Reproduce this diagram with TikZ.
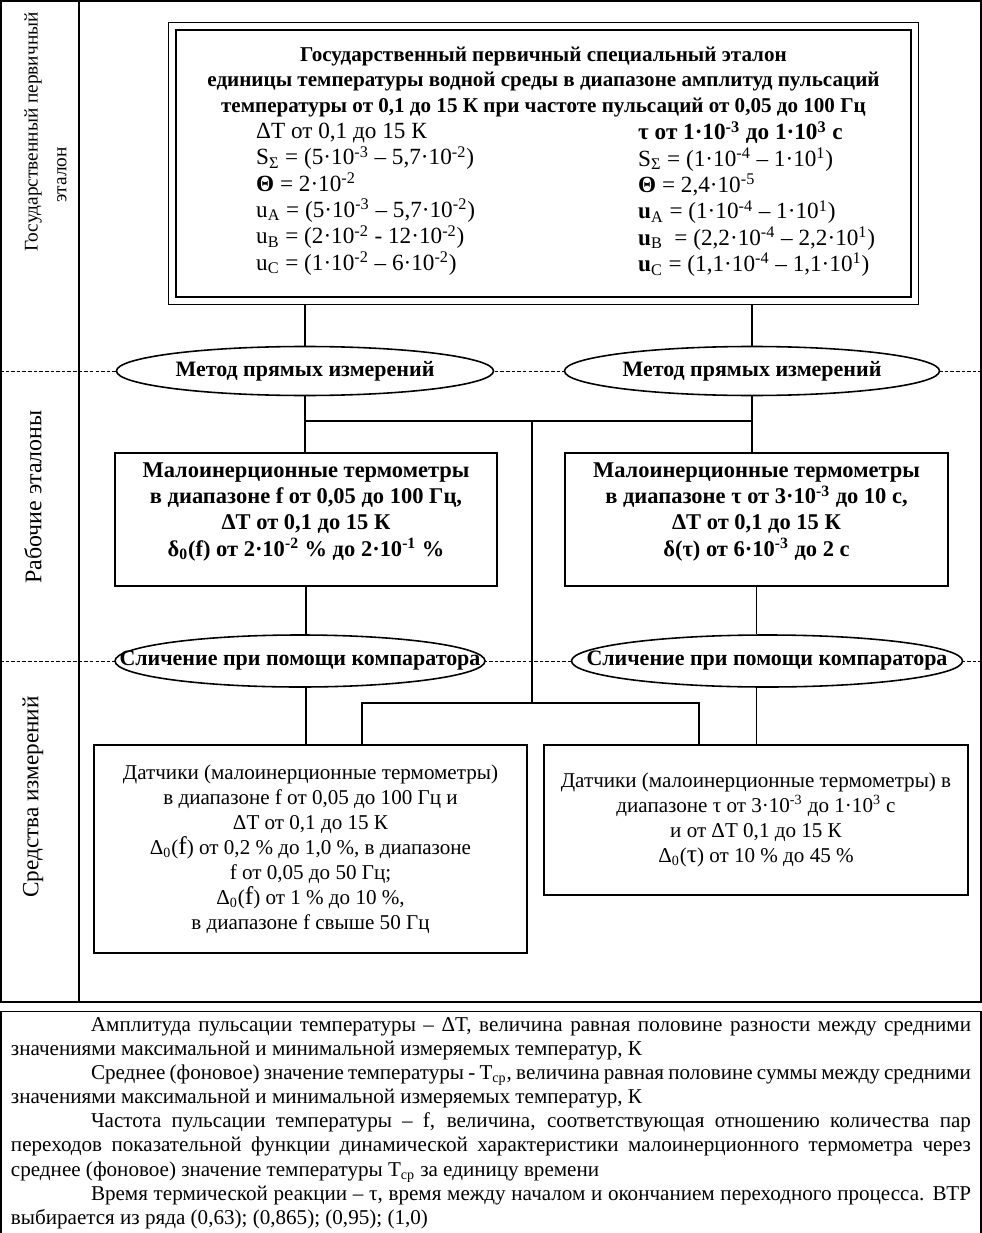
\documentclass[tikz,border=0pt]{standalone}
\usepackage{fontspec}
\setmainfont{Liberation Serif}
\usepackage{tikz}
\usetikzlibrary{positioning, shapes.geometric, fit, calc}

\begin{document}
\begin{tikzpicture}[
  font=\fontsize{12}{14.5}\selectfont,
  box/.style={draw, line width=1.1pt, align=center, inner sep=2pt,
              font=\bfseries\fontsize{12.8}{14.9}\selectfont},
  sensor/.style={box, font=\fontsize{12}{14.2}\selectfont},
  method/.style={draw, ellipse, line width=0.9pt, fill=white, inner sep=0pt,
                 minimum height=0.98cm, font=\bfseries\fontsize{12.5}{15}\selectfont},
  params/.style={align=left, anchor=west, font=\fontsize{13.2}{15}\selectfont},
  level/.style={rotate=90, font=\fontsize{13.6}{14}\selectfont},
  levelline/.style={line width=0.5pt, dash pattern=on 2pt off 1.2pt},
  link/.style={line width=0.6pt},
  boldlink/.style={line width=1.1pt}
]
\useasboundingbox (0,0) rectangle (19.64,-24.66);

% ── Frame and levels ──────────────────────────────────────
\draw[line width=1.2pt] (0.02,-0.02) rectangle (19.62,-20.04);
\draw[line width=1.2pt] (1.58,-0.02) -- (1.58,-20.04);
\draw[levelline] (0,-7.42)  -- (19.64,-7.42);
\draw[levelline] (0,-13.22) -- (19.64,-13.22);

\node[level, font=\fontsize{11}{13}\selectfont] (lvl1a) at (0.66,-2.64) {Государственный первичный};
\node[level, font=\fontsize{11}{13}\selectfont] (lvl1b) at (1.24,-3.5)  {эталон};
\node[level] (lvl2) at (0.66,-9.94)  {Рабочие эталоны};
\node[level, font=\fontsize{13.2}{14}\selectfont] (lvl3) at (0.66,-15.94) {Средства измерений};

% ── Primary standard ──────────────────────────────────────
\node[draw, line width=1.5pt, minimum width=14.7cm, minimum height=5.34cm]
      (etalon) at (10.87,-3.27) {};
\node[draw, line width=0.6pt, fit=(etalon), inner sep=0.12cm] (etalonframe) {};

\node[align=center, font=\bfseries\fontsize{12}{14.5}\selectfont]
      (title) at (10.87,-1.64)
      {Государственный первичный специальный эталон\\
       единицы температуры водной среды в диапазоне амплитуд пульсаций\\
       температуры от 0,1 до 15 К при частоте пульсаций от 0,05 до 100 Гц};

\node[params] (parL) at (5.0,-3.98)
      {ΔT от 0,1 до 15 К\\
       S\textsubscript{Σ} = (5·10\textsuperscript{-3} – 5,7·10\textsuperscript{-2})\\
       \textbf{Θ} = 2·10\textsuperscript{-2}\\
       u\textsubscript{A} = (5·10\textsuperscript{-3} – 5,7·10\textsuperscript{-2})\\
       u\textsubscript{B} = (2·10\textsuperscript{-2} - 12·10\textsuperscript{-2})\\
       u\textsubscript{C} = (1·10\textsuperscript{-2} – 6·10\textsuperscript{-2})};
\node[params] (parR) at (12.64,-3.98)
      {\textbf{τ от 1·10\textsuperscript{-3} до 1·10\textsuperscript{3} с}\\
       S\textsubscript{Σ} = (1·10\textsuperscript{-4} – 1·10\textsuperscript{1})\\
       \textbf{Θ} = 2,4·10\textsuperscript{-5}\\
       \textbf{u}\textsubscript{A} = (1·10\textsuperscript{-4} – 1·10\textsuperscript{1})\\
       \textbf{u}\textsubscript{B} \ = (2,2·10\textsuperscript{-4} – 2,2·10\textsuperscript{1})\\
       \textbf{u}\textsubscript{C} = (1,1·10\textsuperscript{-4} – 1,1·10\textsuperscript{1})};

% ── Methods ───────────────────────────────────────────────
\node[method, minimum width=7.54cm] (met1) at (6.1,-7.42)  {Метод прямых измерений};
\node[method, minimum width=7.5cm]  (met2) at (15.04,-7.42) {Метод прямых измерений};

% ── Working standards ─────────────────────────────────────
\node[box, minimum width=7.64cm, minimum height=2.66cm] (mid1) at (6.12,-10.39)
      {Малоинерционные термометры\\
       в диапазоне f от 0,05 до 100 Гц,\\
       ΔT от 0,1 до 15 К\\
       δ\textsubscript{0}(f) от 2·10\textsuperscript{-2} \% до 2·10\textsuperscript{-1} \%\\[-3.4pt] \mbox{}};
\node[box, minimum width=7.66cm, minimum height=2.66cm] (mid2) at (15.13,-10.39)
      {Малоинерционные термометры\\
       в диапазоне τ от 3·10\textsuperscript{-3} до 10 с,\\
       ΔT от 0,1 до 15 К\\
       δ(τ) от 6·10\textsuperscript{-3} до 2 с\\[-3.4pt] \mbox{}};

% ── Comparison ────────────────────────────────────────────
\node[method, inner xsep=-1cm, minimum width=7.4cm, minimum height=1.04cm]
      (cmp1) at (6.0,-13.22) {Сличение при помощи компаратора};
\node[method, inner xsep=-1cm, minimum width=7.82cm, minimum height=1.04cm]
      (cmp2) at (15.34,-13.22) {Сличение при помощи компаратора};

% ── Measuring instruments ─────────────────────────────────
\node[sensor, minimum width=8.66cm, minimum height=4.16cm] (dat1) at (6.21,-16.98)
      {Датчики (малоинерционные термометры)\\
       в диапазоне f от 0,05 до 100 Гц и\\
       ΔT от 0,1 до 15 К\\
       Δ\textsubscript{0}({\fontsize{14.5}{14}\selectfont f}) от 0,2 \% до 1,0 \%, в диапазоне\\
       f от 0,05 до 50 Гц;\\
       Δ\textsubscript{0}({\fontsize{14.5}{14}\selectfont f}) от 1 \% до 10 \%,\\
       в диапазоне f свыше 50 Гц};
\node[sensor, minimum width=8.48cm, minimum height=3.0cm] (dat2) at (15.12,-16.4)
      {Датчики (малоинерционные термометры) в\\
       диапазоне τ от 3·10\textsuperscript{-3} до 1·10\textsuperscript{3} с\\
       и от ΔT 0,1 до 15 К\\
       Δ\textsubscript{0}({\fontsize{14.5}{14}\selectfont τ}) от 10 \% до 45 \%};

% ── Connectors ────────────────────────────────────────────
\coordinate (jtop) at (10.64,-8.42);
\coordinate (jbot) at (10.64,-14.06);
\coordinate (brL)  at ($(dat1.north)+(1.03,0)$);
\coordinate (brR)  at ($(dat2.north)+(-1.14,0)$);

\draw[boldlink] (etalonframe.south -| met1.north) -- (met1.north);
\draw[link]     (etalonframe.south -| met2.north) -- (met2.north);
\draw[link]     (met1.south) -- (met1.south |- mid1.north);
\draw[link]     (met2.south) -- (met2.south |- mid2.north);
\draw[link]     (met1.south |- jtop) -- (met2.south |- jtop);
\draw[boldlink] (jtop) -- (jbot);
\draw[link]     (brL) |- (jbot) -| (brR);

\draw[link]     (mid1.south) -- (mid1.south |- cmp1.north);
\draw[boldlink] (mid2.south) -- (mid2.south |- cmp2.north);
\draw[boldlink] (mid1.south |- cmp1.south) -- (mid1.south |- dat1.north);
\draw[link]     (mid2.south |- cmp2.south) -- (mid2.south |- dat2.north);

% ── Notes ─────────────────────────────────────────────────
\node[draw, line width=0.6pt, minimum width=19.6cm, minimum height=4.36cm,
      text width=19.2cm, align=justify, font=\fontsize{12}{13.75}\selectfont]
      (notes) at (9.82,-22.46)
      {\hspace*{1.6cm}Амплитуда пульсации температуры – ΔT, величина равная половине разности между средними\linebreak
       значениями максимальной и минимальной измеряемых температур, К\\
       \hspace*{1.6cm}Среднее (фоновое) значение температуры - T\textsubscript{ср}, величина равная половине суммы между средними\linebreak
       значениями максимальной и минимальной измеряемых температур, К\\
       \hspace*{1.6cm}Частота пульсации температуры – f, величина, соответствующая отношению количества пар\linebreak
       переходов показательной функции динамической характеристики малоинерционного термометра через\linebreak
       среднее (фоновое) значение температуры T\textsubscript{ср} за единицу времени\\
       \hspace*{1.6cm}Время термической реакции – τ, время между началом и окончанием переходного процесса. ВТР\linebreak
       выбирается из ряда (0,63); (0,865); (0,95); (1,0)};

\end{tikzpicture}
\end{document}
